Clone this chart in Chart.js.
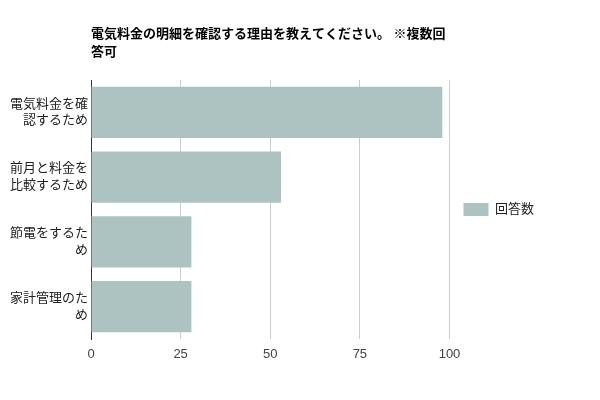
<!DOCTYPE html>
<html lang="ja">
<head>
  <meta charset="UTF-8">
  <title>電気料金の明細を確認する理由</title>
  <script src="https://cdn.jsdelivr.net/npm/chart.js"></script>
  <style>
    html, body { margin: 0; padding: 0; background: #fff; }
    #wrap { width: 600px; height: 400px; }
  </style>
</head>
<body>
  <div id="wrap"><canvas id="grafico"></canvas></div>

  <script>
    // データ
    const titulo = ['電気料金の明細を確認する理由を教えてください。 ※複数回', '答可'];
    const categorias = [
      ['電気料金を確', '認するため'],
      ['前月と料金を', '比較するため'],
      ['節電をするた', 'め'],
      ['家計管理のた', 'め']
    ];
    const serieNombre = '回答数';
    const respuestas = [98, 53, 28, 28];
    const ejeMin = 0;
    const ejeMax = 100;
    const ejePaso = 25;

    const fuente = "Arial, 'Liberation Sans', 'Noto Sans CJK JP', sans-serif";
    Chart.defaults.font.family = fuente;
    Chart.defaults.font.size = 13;
    Chart.defaults.color = '#222';

    // el título se alinea con el borde izquierdo del área del gráfico
    const tituloPlugin = {
      id: 'tituloPlugin',
      afterDraw(chart) {
        const ctx = chart.ctx;
        ctx.save();
        ctx.font = 'bold 13px ' + fuente;
        ctx.fillStyle = '#000';
        ctx.textBaseline = 'middle';
        ctx.textAlign = 'left';
        ctx.fillText(titulo[0], chart.chartArea.left, 34);
        ctx.fillText(titulo[1], chart.chartArea.left, 52);
        ctx.restore();
      }
    };

    const ctx = document.getElementById('grafico').getContext('2d');
    new Chart(ctx, {
      type: 'bar',
      data: {
        labels: categorias,
        datasets: [{
          label: serieNombre,
          data: respuestas,
          backgroundColor: '#acc3c2',
          borderWidth: 0,
          barPercentage: 0.79,
          categoryPercentage: 1
        }]
      },
      options: {
        indexAxis: 'y',
        responsive: true,
        maintainAspectRatio: false,
        animation: false,
        layout: {
          padding: { top: 80, right: 56, bottom: 0, left: 0 }
        },
        plugins: {
          legend: {
            position: 'right',
            fullSize: false,
            labels: {
              boxWidth: 25,
              boxHeight: 13,
              padding: 14,
              color: '#222'
            }
          },
          tooltip: { enabled: false }
        },
        scales: {
          x: {
            min: ejeMin,
            max: ejeMax,
            afterFit(scale) { scale.height = 61; },
            ticks: { stepSize: ejePaso, color: '#444', padding: 8 },
            grid: {
              color: '#cccccc',
              drawTicks: false
            },
            border: { display: false }
          },
          y: {
            afterFit(scale) { scale.width = 91; },
            ticks: { color: '#222', padding: 3, font: { lineHeight: 1.3 } },
            grid: { display: false, drawTicks: false },
            border: { color: '#333', width: 1 }
          }
        }
      },
      plugins: [tituloPlugin]
    });
  </script>
</body>
</html>
